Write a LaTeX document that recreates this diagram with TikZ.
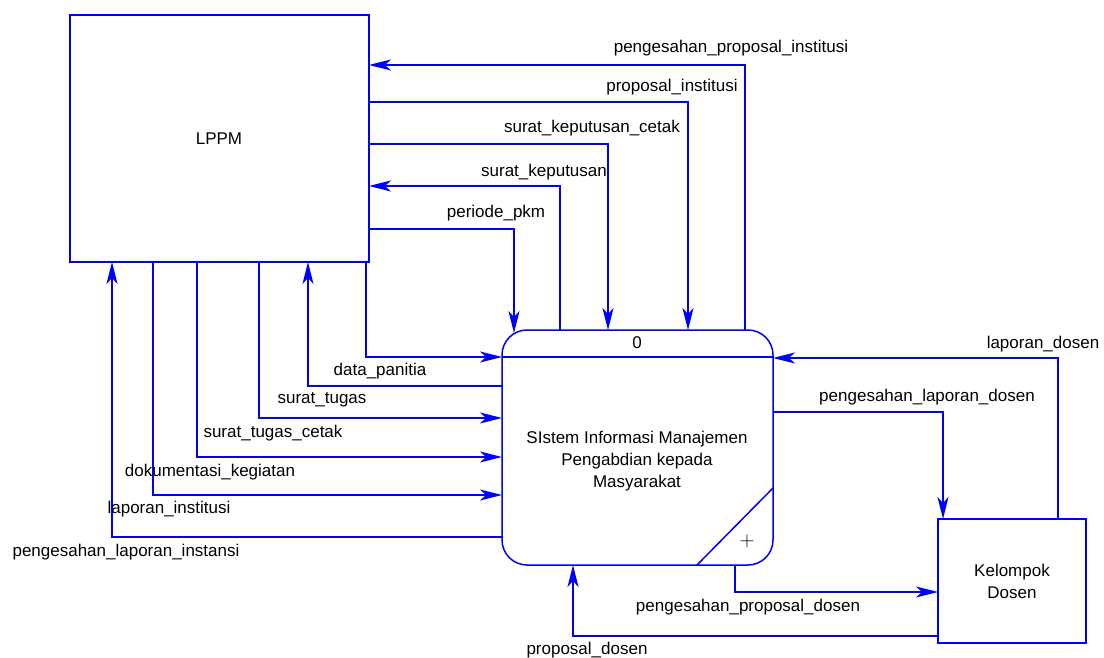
\documentclass[tikz,border=0pt]{standalone}
\usepackage{fontspec}
\setmainfont{Liberation Sans}
\usepackage{xcolor}
\usetikzlibrary{calc,positioning,arrows.meta}
\definecolor{color_line}{HTML}{0000ff}

\tikzset{
	entity/.style={draw=color_line,line width=1.5pt,outer sep=0pt,align=center},
	process/.style={entity,rounded corners=25pt},
	flow/.style={draw=color_line,line width=1.5pt,-{Stealth[length=22pt,width=11pt,inset=6pt]}},
	lbl/.style={inner sep=0pt,text=black}
}

\begin{document}
\begin{tikzpicture}[x=1pt,y=-1pt,font=\fontsize{17}{22}\selectfont]
	\useasboundingbox (0,0) rectangle (1104,658);
	% Entities
	\node[entity,minimum width=299pt,minimum height=247pt] (lppm) at (219.5,138.5) {};
	\node[lbl] (lppm_t) at (219,139) {LPPM};
	\node[entity,minimum width=148pt,minimum height=124pt] (kel) at (1012,581) {};
	\node[lbl,align=center] (kel_t) at (1012,581) {Kelompok\\Dosen};

	% Process
	\node[process,minimum width=271pt,minimum height=235pt] (proc) at (637.5,447.5) {};
	\draw[color_line,line width=1.5pt] (proc.west |- 0,357) -- (proc.east |- 0,357);
	\draw[color_line,line width=1.5pt] (proc.south -| 697,0) -- (proc.east |- 0,488);
	\node[lbl] (proc_id) at (637,343) {0};
	\node[lbl,align=center] (proc_t) at (637,461) {SIstem Informasi Manajemen\\Pengabdian kepada\\Masyarakat};
	\node[lbl,font=\fontsize{22}{22}\selectfont] (proc_plus) at (747,541) {$+$};

	% Flows LPPM <-> process (top)
	\draw[flow] (proc.north -| 745,0) |- (lppm.east |- 0,65);
	\draw[flow] (lppm.east |- 0,102) -| (proc.north -| 688,0);
	\draw[flow] (lppm.east |- 0,144) -| (proc.north -| 608,0);
	\draw[flow] (proc.north -| 560,0) |- (lppm.east |- 0,186);
	\draw[flow,shorten >=-3pt] (lppm.east |- 0,229) -| (proc.north -| 514,0);

	% Flows LPPM <-> process (bottom)
	\draw[flow] (lppm.south -| 366,0) |- (proc.west |- 0,357);
	\draw[flow] (proc.west |- 0,386) -| (lppm.south -| 308,0);
	\draw[flow] (lppm.south -| 259,0) |- (proc.west |- 0,418);
	\draw[flow] (lppm.south -| 197,0) |- (proc.west |- 0,457);
	\draw[flow] (lppm.south -| 153,0) |- (proc.west |- 0,495);
	\draw[flow] (proc.west |- 0,537) -| (lppm.south -| 112,0);

	% Flows process <-> Kelompok Dosen
	\draw[flow] (kel.north -| 1058,0) |- (proc.east |- 0,358);
	\draw[flow] (proc.east |- 0,412) -| (kel.north -| 943,0);
	\draw[flow] (proc.south -| 735,0) |- (kel.west |- 0,592);
	\draw[flow] (kel.west |- 0,636) -| (proc.south -| 573,0);

	% Labels
	\node[lbl] (l_ppi) at (731,48) {pengesahan\_proposal\_institusi};
	\node[lbl] (l_pi) at (672,87) {proposal\_institusi};
	\node[lbl] (l_skc) at (592,128) {surat\_keputusan\_cetak};
	\node[lbl] (l_sk) at (544,172) {surat\_keputusan};
	\node[lbl] (l_pp) at (496,213) {periode\_pkm};
	\node[lbl] (l_dp) at (380,371) {data\_panitia};
	\node[lbl] (l_st) at (322,400) {surat\_tugas};
	\node[lbl] (l_stc) at (273,433) {surat\_tugas\_cetak};
	\node[lbl] (l_dk) at (210,472) {dokumentasi\_kegiatan};
	\node[lbl] (l_li) at (169,509) {laporan\_institusi};
	\node[lbl] (l_pli) at (126,552) {pengesahan\_laporan\_instansi};
	\node[lbl] (l_ld) at (1043,344) {laporan\_dosen};
	\node[lbl] (l_pld) at (927,397) {pengesahan\_laporan\_dosen};
	\node[lbl] (l_ppd) at (748,607) {pengesahan\_proposal\_dosen};
	\node[lbl] (l_pd) at (587,650) {proposal\_dosen};
\end{tikzpicture}
\end{document}
